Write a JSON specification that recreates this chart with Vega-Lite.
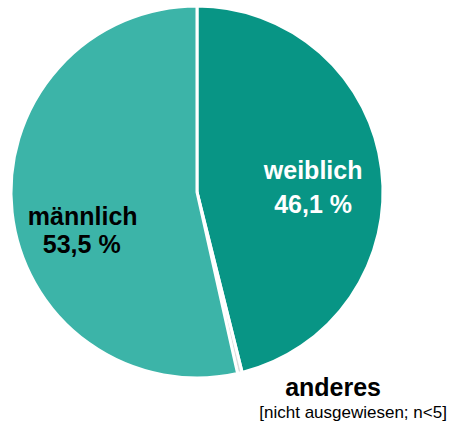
{
  "$schema": "https://vega.github.io/schema/vega-lite/v6.json",
  "width": 394,
  "height": 384,
  "autosize": "none",
  "padding": {"left": 0, "top": 0, "right": 60, "bottom": 45},
  "background": "white",
  "config": {"view": {"stroke": null}, "font": "Liberation Sans"},
  "data": {
    "values": [
      {"category": "weiblich", "percent": 46.1, "rank": 1, "label": "46,1 %"},
      {"category": "anderes", "percent": 0.4, "rank": 2, "label": "[nicht ausgewiesen; n<5]"},
      {"category": "männlich", "percent": 53.5, "rank": 3, "label": "53,5 %"}
    ]
  },
  "encoding": {
    "theta": {"field": "percent", "type": "quantitative", "stack": true},
    "order": {"field": "rank", "type": "quantitative"}
  },
  "layer": [
    {
      "mark": {"type": "arc", "outerRadius": 186, "stroke": "white", "strokeWidth": 3},
      "encoding": {
        "color": {
          "field": "category",
          "type": "nominal",
          "scale": {"domain": ["weiblich", "anderes", "männlich"], "range": ["#089585", "#dcdcdc", "#3cb4a8"]},
          "legend": null
        }
      }
    },
    {
      "mark": {"type": "text", "radius": 117, "fontSize": 25, "fontWeight": "bold", "color": "white", "align": "center", "baseline": "alphabetic", "dy": 1},
      "encoding": {"text": {"condition": {"test": "datum.category === 'weiblich'", "field": "category"}, "value": ""}}
    },
    {
      "mark": {"type": "text", "radius": 117, "fontSize": 25, "fontWeight": "bold", "color": "white", "align": "center", "baseline": "alphabetic", "dy": 35},
      "encoding": {"text": {"condition": {"test": "datum.category === 'weiblich'", "field": "label"}, "value": ""}}
    },
    {
      "mark": {"type": "text", "radius": 115, "fontSize": 25, "fontWeight": "bold", "color": "black", "align": "center", "baseline": "alphabetic", "dy": 20, "dx": 0},
      "encoding": {"text": {"condition": {"test": "datum.category === 'männlich'", "field": "category"}, "value": ""}}
    },
    {
      "mark": {"type": "text", "radius": 115, "fontSize": 25, "fontWeight": "bold", "color": "black", "align": "center", "baseline": "alphabetic", "dy": 48, "dx": -1},
      "encoding": {"text": {"condition": {"test": "datum.category === 'männlich'", "field": "label"}, "value": ""}}
    },
    {
      "mark": {"type": "text", "radius": 200, "fontSize": 25, "fontWeight": "bold", "color": "black", "align": "center", "baseline": "alphabetic", "dy": 9, "dx": 90},
      "encoding": {"text": {"condition": {"test": "datum.category === 'anderes'", "field": "category"}, "value": ""}}
    },
    {
      "mark": {"type": "text", "radius": 200, "fontSize": 17, "color": "black", "align": "center", "baseline": "alphabetic", "dy": 31, "dx": 110},
      "encoding": {"text": {"condition": {"test": "datum.category === 'anderes'", "field": "label"}, "value": ""}}
    }
  ]
}
